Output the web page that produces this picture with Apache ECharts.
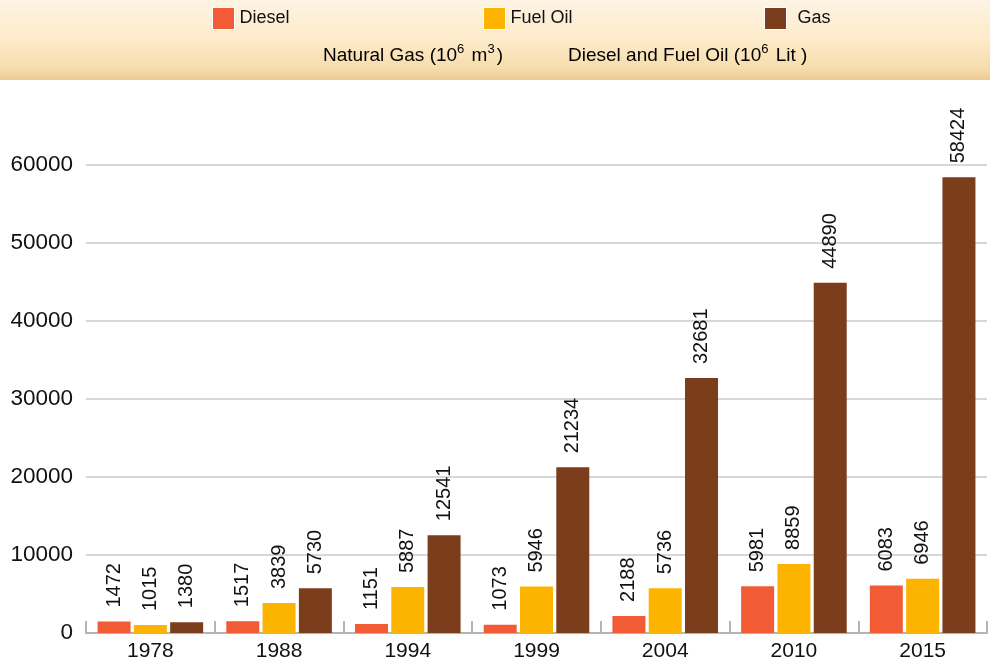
<!DOCTYPE html>
<html>
<head>
<meta charset="utf-8">
<script src="https://cdn.jsdelivr.net/npm/echarts@6/dist/echarts.min.js"></script>
<style>
html,body{margin:0;padding:0;background:#fff;}
#chart{width:990px;height:664px;}
</style>
</head>
<body>
<div id="chart"></div>
<script>
const years = ['1978', '1988', '1994', '1999', '2004', '2010', '2015'];
const diesel = [1472, 1517, 1151, 1073, 2188, 5981, 6083];
const fuelOil = [1015, 3839, 5887, 5946, 5736, 8859, 6946];
const gas = [1380, 5730, 12541, 21234, 32681, 44890, 58424];
const yTicks = { min: 0, max: 60000, interval: 10000 };

const FONT = '"Liberation Sans", Arial, Helvetica, sans-serif';
const chart = echarts.init(document.getElementById('chart'));

const labelCfg = {
  show: true,
  position: 'top',
  rotate: 90,
  align: 'left',
  verticalAlign: 'middle',
  distance: 14,
  fontSize: 20,
  color: '#111',
  fontFamily: FONT
};

function legendFor(name, left, textPad) {
  return {
    data: [name],
    left: left,
    top: 7,
    padding: 0,
    itemWidth: 22,
    itemHeight: 22,
    icon: 'rect',
    itemStyle: { borderColor: '#fff', borderWidth: 1 },
    textStyle: { fontSize: 18, color: '#111', fontFamily: FONT, padding: [0, 0, 0, textPad] },
    selectedMode: false
  };
}

const supRich = {
  n: { fontSize: 19, color: '#111', fontFamily: FONT, lineHeight: 26, verticalAlign: 'bottom' },
  s: { fontSize: 13, color: '#111', fontFamily: FONT, lineHeight: 14, verticalAlign: 'top', padding: [4, 2, 0, 0] }
};

chart.setOption({
  backgroundColor: '#fff',
  animation: false,
  graphic: [
    {
      type: 'rect',
      left: 0, top: 0, z: -10,
      shape: { width: 990, height: 80 },
      style: {
        fill: new echarts.graphic.LinearGradient(0, 0, 0, 1, [
          { offset: 0, color: '#fdf4e5' },
          { offset: 0.55, color: '#fde9c5' },
          { offset: 0.85, color: '#f7dcad' },
          { offset: 1, color: '#ecca92' }
        ])
      }
    },
    {
      type: 'text',
      left: 323, top: 39,
      style: {
        text: '{n|Natural Gas (10}{s|6}{n| m}{s|3}{n|)}',
        rich: supRich
      }
    },
    {
      type: 'text',
      left: 568, top: 39,
      style: {
        text: '{n|Diesel and Fuel Oil (10}{s|6}{n| Lit )}',
        rich: supRich
      }
    }
  ],
  legend: [
    legendFor('Diesel', 212, 0),
    legendFor('Fuel Oil', 483, 0),
    legendFor('Gas', 764, 6)
  ],
  grid: { left: 86, right: 3, top: 165, bottom: 31, containLabel: false },
  xAxis: {
    type: 'category',
    data: years,
    axisLine: { lineStyle: { color: '#b4b4b4', width: 2 } },
    axisTick: { show: true, inside: true, length: 12, lineStyle: { color: '#b4b4b4', width: 2 } },
    axisLabel: { fontSize: 21, color: '#111', fontFamily: FONT, margin: 8 }
  },
  yAxis: {
    type: 'value',
    min: yTicks.min,
    max: yTicks.max,
    interval: yTicks.interval,
    axisLine: { show: false },
    axisTick: { show: false },
    splitLine: { lineStyle: { color: '#cacaca', width: 1.5 } },
    axisLabel: { fontSize: 22.5, color: '#111', fontFamily: FONT, margin: 13,
      formatter: function (v) { return String(v); } }
  },
  series: [
    { name: 'Diesel', type: 'bar', data: diesel, barWidth: 33, barGap: '10%',
      itemStyle: { color: '#f15c36' }, label: labelCfg },
    { name: 'Fuel Oil', type: 'bar', data: fuelOil, barWidth: 33, barGap: '10%',
      itemStyle: { color: '#fdb400' }, label: labelCfg },
    { name: 'Gas', type: 'bar', data: gas, barWidth: 33, barGap: '10%',
      itemStyle: { color: '#7c3d1d' }, label: labelCfg }
  ]
});
</script>
</body>
</html>
